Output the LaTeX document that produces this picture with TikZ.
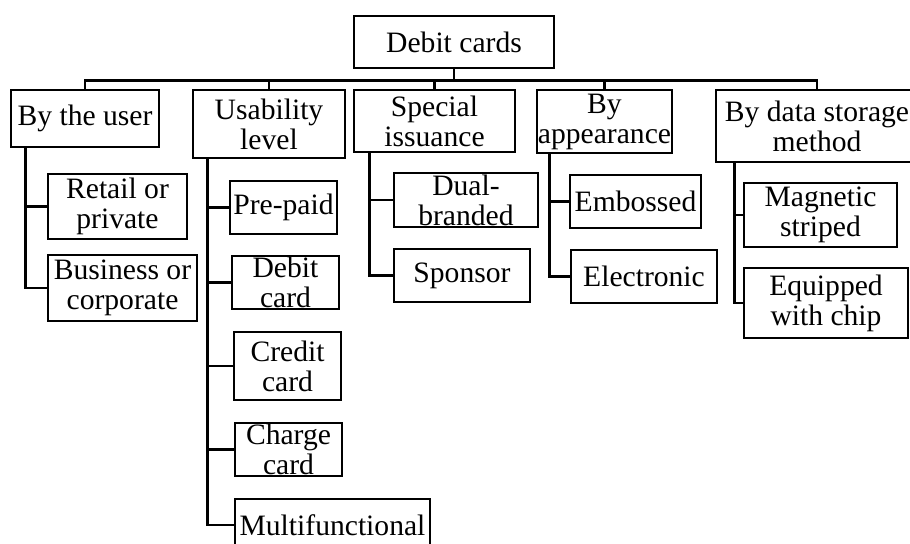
\documentclass[tikz,border=0pt]{standalone}
\usepackage{fontspec}
\setmainfont{Liberation Serif}
\usepackage{tikz}
\usetikzlibrary{positioning}

\tikzset{
  box/.style={draw, line width=1.3pt, align=center, inner sep=0pt,
    font=\fontsize{14.8}{15}\selectfont},
  link/.style={line width=1.3pt}
}

\begin{document}
\begin{tikzpicture}[x=0.5pt, y=-0.5pt]
\useasboundingbox (0,0) rectangle (910,544);

% root and first level
\node[box, minimum width=100pt, minimum height=26pt] (debit) at (454,42) {Debit cards};
\node[box, minimum width=74pt, minimum height=28.5pt] (user) at (85,118.5) {By the user};
\node[box, minimum width=76pt, minimum height=34pt] (usab) at (269,124) {Usability\\level};
\node[box, minimum width=80.5pt, minimum height=31pt] (spec) at (434.5,121) {Special\\issuance};
\node[box, minimum width=67.5pt, minimum height=31.5pt] (appear) at (604.5,121.5) {By\\appearance};
\node[box, minimum width=101pt, minimum height=36pt] (storage) at (817,126) {By data storage\\method};

% by the user
\node[box, minimum width=69.5pt, minimum height=32.5pt] (retail) at (117.5,206.5) {Retail or\\private};
\node[box, minimum width=74.5pt, minimum height=33pt] (business) at (122.5,288) {Business or\\corporate};

% usability level
\node[box, minimum width=53.5pt, minimum height=26.5pt] (prepaid) at (283.5,207.5) {Pre-paid};
\node[box, minimum width=53.5pt, minimum height=26.5pt] (debitcard) at (285.5,282.5) {Debit\\card};
\node[box, minimum width=53.5pt, minimum height=34pt] (credit) at (287.5,366) {Credit\\card};
\node[box, minimum width=53.5pt, minimum height=26.5pt] (charge) at (288.5,449.5) {Charge\\card};
\node[box, minimum width=97.5pt, minimum height=26pt] (multi) at (332.5,525) {Multifunctional};

% special issuance
\node[box, minimum width=72pt, minimum height=27pt] (dual) at (466,200) {Dual-\\branded};
\node[box, minimum width=68pt, minimum height=26.5pt] (sponsor) at (462,275.5) {Sponsor};

% by appearance
\node[box, minimum width=65.5pt, minimum height=26.5pt] (embossed) at (635.5,201.5) {Embossed};
\node[box, minimum width=73pt, minimum height=26.5pt] (electronic) at (644,276.5) {Electronic};

% by data storage method
\node[box, minimum width=76.5pt, minimum height=32pt] (magnetic) at (820.5,215) {Magnetic\\striped};
\node[box, minimum width=82pt, minimum height=35pt] (equipped) at (826,303) {Equipped\\with chip};

% bus under the root
\foreach \n in {user,usab,spec,appear,storage}
  \draw[link] (debit.south) -- ++(0,11) -| (\n.north);

% branches
\draw[link] ([xshift=8pt]user.south west) |- (retail.west);
\draw[link] ([xshift=8pt]user.south west) |- (business.west);

\draw[link] ([xshift=8pt]usab.south west) |- (prepaid.west);
\draw[link] ([xshift=8pt]usab.south west) |- (debitcard.west);
\draw[link] ([xshift=8pt]usab.south west) |- (credit.west);
\draw[link] ([xshift=8pt]usab.south west) |- (charge.west);
\draw[link] ([xshift=8pt]usab.south west) |- (multi.west);

\draw[link] ([xshift=8.5pt]spec.south west) |- (dual.west);
\draw[link] ([xshift=8.5pt]spec.south west) |- (sponsor.west);

\draw[link] ([xshift=7pt]appear.south west) |- (embossed.west);
\draw[link] ([xshift=7pt]appear.south west) |- (electronic.west);

\draw[link] ([xshift=10pt]storage.south west) |- (magnetic.west);
\draw[link] ([xshift=10pt]storage.south west) |- (equipped.west);
\end{tikzpicture}
\end{document}
